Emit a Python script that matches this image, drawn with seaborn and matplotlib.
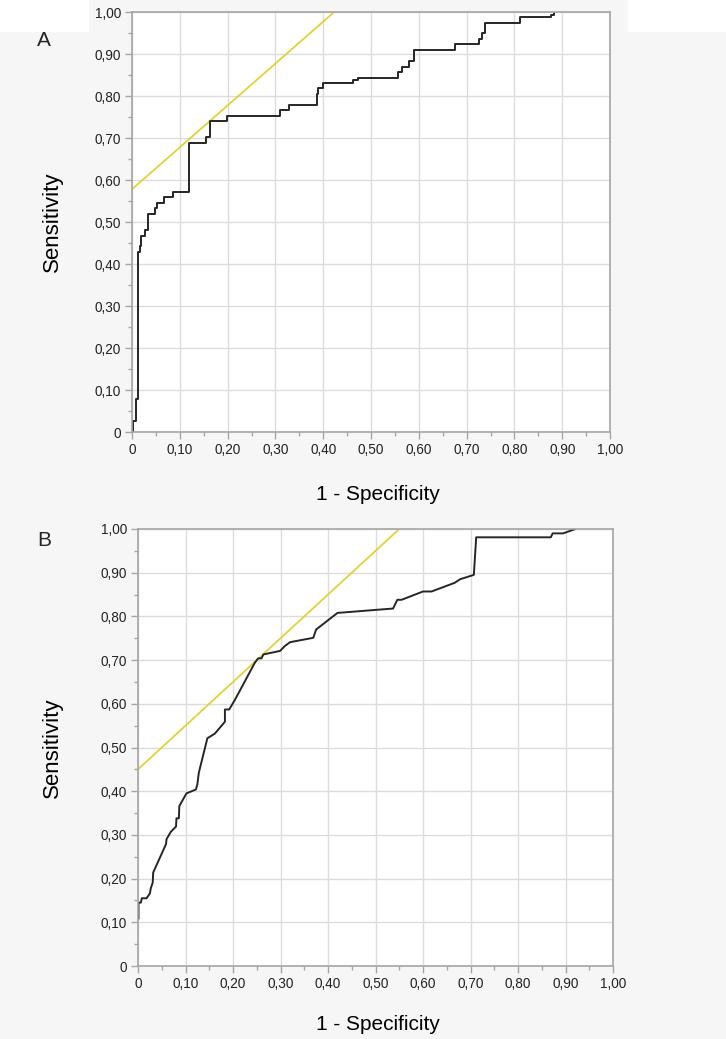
import numpy as np
import pandas as pd
import matplotlib
matplotlib.use("Agg")
import matplotlib.pyplot as plt
import seaborn as sns
from matplotlib.patches import Rectangle

# ROC curve A (step curve: x of each step, sensitivity after the step)
fpr_a = [0.003, 0.003, 0.008, 0.013, 0.017, 0.018, 0.027, 0.034, 0.048, 0.052,
         0.066, 0.085, 0.120, 0.155, 0.163, 0.198, 0.310, 0.328, 0.386, 0.390,
         0.400, 0.463, 0.473, 0.556, 0.564, 0.580, 0.589, 0.676, 0.725, 0.733,
         0.738, 0.812, 0.876, 0.883]
tpr_a = [0.000, 0.027, 0.079, 0.429, 0.442, 0.467, 0.481, 0.519, 0.533, 0.546,
         0.559, 0.571, 0.687, 0.702, 0.740, 0.753, 0.766, 0.779, 0.805, 0.818,
         0.831, 0.838, 0.844, 0.858, 0.870, 0.883, 0.910, 0.923, 0.936, 0.949,
         0.975, 0.987, 0.994, 1.000]

# ROC curve B
fpr_b = [0.001, 0.001, 0.006, 0.008, 0.018, 0.025, 0.027, 0.031, 0.032, 0.059,
         0.060, 0.069, 0.080, 0.081, 0.086, 0.087, 0.102, 0.122, 0.125, 0.128,
         0.146, 0.162, 0.183, 0.183, 0.192, 0.204, 0.246, 0.253, 0.260, 0.264,
         0.299, 0.309, 0.320, 0.369, 0.375, 0.420, 0.537, 0.546, 0.555, 0.600,
         0.618, 0.667, 0.678, 0.707, 0.712, 0.869, 0.873, 0.895, 0.921]
tpr_b = [0.108, 0.145, 0.145, 0.155, 0.155, 0.166, 0.178, 0.191, 0.214, 0.279,
         0.290, 0.307, 0.319, 0.338, 0.338, 0.366, 0.395, 0.404, 0.416, 0.442,
         0.521, 0.532, 0.559, 0.587, 0.587, 0.609, 0.694, 0.704, 0.704, 0.713,
         0.721, 0.732, 0.741, 0.751, 0.770, 0.808, 0.818, 0.838, 0.838, 0.857,
         0.857, 0.877, 0.885, 0.895, 0.981, 0.981, 0.990, 0.990, 1.000]

# yellow tangent lines (slope 1)
tan_a_x = [0.0, 0.423]
tan_a_y = [0.578, 1.0]
tan_b_x = [0.0, 0.550]
tan_b_y = [0.450, 1.0]

tick_vals = [0.0, 0.1, 0.2, 0.3, 0.4, 0.5, 0.6, 0.7, 0.8, 0.9, 1.0]
tick_labels = ["0", "0,10", "0,20", "0,30", "0,40", "0,50",
               "0,60", "0,70", "0,80", "0,90", "1,00"]
minor_vals = [0.05, 0.15, 0.25, 0.35, 0.45, 0.55, 0.65, 0.75, 0.85, 0.95]

sns.set_theme(style="whitegrid")
plt.rcParams["font.family"] = ["Liberation Sans", "DejaVu Sans"]

bg = "#f6f6f6"
spine_col = "#a5a5a5"
curve_col = "#262626"
yellow = "#e2d235"

fig = plt.figure(figsize=(7.26, 10.39), dpi=100, facecolor=bg)
# white corners at the top
fig.patches.append(Rectangle((0, 1 - 31 / 1039), 88 / 726, 31 / 1039,
                             transform=fig.transFigure, color="white", zorder=0))
fig.patches.append(Rectangle((628 / 726, 1 - 31 / 1039), 98 / 726, 31 / 1039,
                             transform=fig.transFigure, color="white", zorder=0))

ax_a = fig.add_axes([132 / 726, 1 - 432 / 1039, 478 / 726, 420 / 1039])
ax_b = fig.add_axes([138 / 726, 1 - 966 / 1039, 475 / 726, 437 / 1039])

df_a = pd.DataFrame({"fpr": fpr_a, "tpr": tpr_a})
df_b = pd.DataFrame({"fpr": fpr_b, "tpr": tpr_b})

sns.lineplot(x=tan_a_x, y=tan_a_y, ax=ax_a, color=yellow, linewidth=1.3,
             estimator=None, sort=False)
sns.lineplot(data=df_a, x="fpr", y="tpr", ax=ax_a, color=curve_col,
             linewidth=1.4, estimator=None, sort=False, drawstyle="steps-post")

sns.lineplot(x=tan_b_x, y=tan_b_y, ax=ax_b, color=yellow, linewidth=1.3,
             estimator=None, sort=False)
sns.lineplot(data=df_b, x="fpr", y="tpr", ax=ax_b, color=curve_col,
             linewidth=1.4, estimator=None, sort=False)

for ax, lx in [(ax_a, -0.144), (ax_b, -0.158)]:
    ax.set_facecolor("white")
    ax.set_xlim(0, 1)
    ax.set_ylim(0, 1)
    ax.set_xticks(tick_vals)
    ax.set_xticklabels(tick_labels)
    ax.set_yticks(tick_vals)
    ax.set_yticklabels(tick_labels)
    ax.set_xticks(minor_vals, minor=True)
    ax.set_yticks(minor_vals, minor=True)
    ax.grid(True, which="major", color="#dcdcdc", linewidth=1.0)
    ax.grid(False, which="minor")
    ax.tick_params(which="major", direction="out", length=5, width=1,
                   color=spine_col, labelsize=9.8, labelcolor="#222222",
                   bottom=True, left=True, pad=3)
    ax.tick_params(which="minor", direction="out", length=3, width=1,
                   color=spine_col, bottom=True, left=True)
    for s in ax.spines.values():
        s.set_color(spine_col)
        s.set_linewidth(1.2)
    ax.set_xlabel("1 - Specificity", fontsize=15, color="black")
    ax.set_ylabel("Sensitivity", fontsize=16, color="black")
    ax.yaxis.set_label_coords(lx, 0.5)

ax_a.xaxis.set_label_coords(0.515, -0.125)
ax_b.xaxis.set_label_coords(0.505, -0.112)

fig.text(44 / 726, 1 - 40 / 1039, "A", fontsize=15, ha="center", va="center")
fig.text(44 / 726, 1 - 541 / 1039, "B", fontsize=15, ha="center", va="center")

fig.savefig("out.png", dpi=100, facecolor=bg)
